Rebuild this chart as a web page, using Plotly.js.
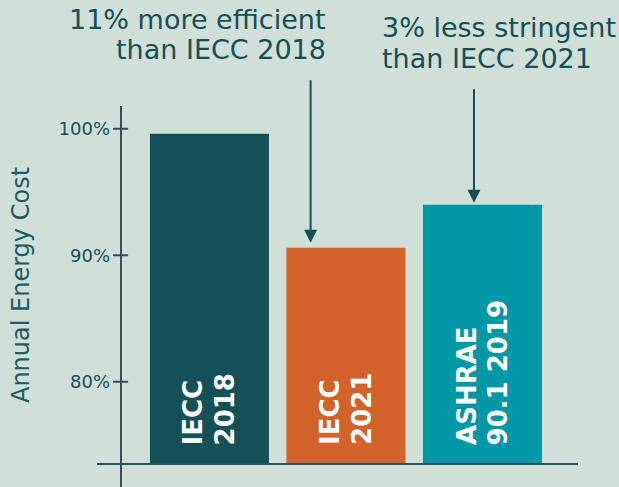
<!DOCTYPE html>
<html>
<head>
<meta charset="utf-8">
<script src="https://cdn.plot.ly/plotly-3.0.1.min.js"></script>
<style>
html,body{margin:0;padding:0;background:#d0dfd8;}
#chart{width:619px;height:487px;}
</style>
</head>
<body>
<div id="chart"></div>
<script>
// ---- data ----
const categories = ["IECC 2018", "IECC 2021", "ASHRAE 90.1 2019"];
const barLabelLine1 = ["IECC", "IECC", "ASHRAE"];
const barLabelLine2 = ["2018", "2021", "90.1 2019"];
const annualEnergyCost = [99.6, 90.6, 94.0];   // % of IECC 2018
const barColors = ["#154f57", "#d3622a", "#0097a7"];
const tickValues = [80, 90, 100];
const tickLabels = ["80%", "90%", "100%"];
const yAxisTitle = "Annual Energy Cost";
const callout1Lines = ["11% more efficient", "than IECC 2018"];
const callout2Lines = ["3% less stringent", "than IECC 2021"];

// ---- styles ----
const BG = "#d0dfd8";
const INK = "#174f56";
const AXIS = "#3e4a5c";
const Y_MIN = 73.5, Y_MAX = 101.8;
const FONT = "'DejaVu Sans', sans-serif";

const trace = {
  type: "bar",
  x: categories,
  y: annualEnergyCost,
  marker: {color: barColors, line: {width: 0}},
  hoverinfo: "skip",
  showlegend: false
};

const shapes = [
  {type: "line", xref: "paper", yref: "paper", x0: 0, x1: 0, y0: 1, y1: -0.08,
   line: {color: AXIS, width: 2}},
  {type: "line", xref: "paper", yref: "paper", x0: -0.0525, x1: 1, y0: 0, y1: 0,
   line: {color: "#23525a", width: 2}}
];
tickValues.forEach(v => shapes.push({
  type: "line", xref: "paper", yref: "y", x0: -0.0175, x1: 0.0155, y0: v, y1: v,
  line: {color: AXIS, width: 2}
}));

const annotations = [];
const labelFont = {family: "'DejaVu Sans', sans-serif", size: 26, color: "#ffffff"};
categories.forEach((c, i) => {
  [[barLabelLine1[i], -16], [barLabelLine2[i], 16]].forEach(([t, dx]) => annotations.push({
    x: c, y: Y_MIN, xref: "x", yref: "y",
    yanchor: "bottom", xanchor: "center", yshift: 17, xshift: dx,
    text: "<b>" + t + "</b>", textangle: -90, showarrow: false, font: labelFont
  }));
});
const calloutFont = {family: FONT, size: 27, color: INK};
callout1Lines.forEach((t, k) => annotations.push({
  xref: "paper", yref: "paper", x: 0.453, y: 1, yshift: 104 - 30 * k,
  xanchor: "right", yanchor: "top", text: t, showarrow: false, font: calloutFont
}));
callout2Lines.forEach((t, k) => annotations.push({
  xref: "paper", yref: "paper", x: 0.567, y: 1, yshift: 96 - 31 * k,
  xanchor: "left", yanchor: "top", text: t, showarrow: false, font: calloutFont
}));
annotations.push({
  x: 0.741, y: annualEnergyCost[1], xref: "x", yref: "y", text: "",
  showarrow: true, ax: 0, ay: -169, axref: "pixel", ayref: "pixel",
  arrowhead: 2, arrowsize: 1.3, arrowwidth: 2, arrowcolor: INK, standoff: 5
});
annotations.push({
  x: 1.938, y: annualEnergyCost[2], xref: "x", yref: "y", text: "",
  showarrow: true, ax: 0, ay: -117, axref: "pixel", ayref: "pixel",
  arrowhead: 2, arrowsize: 1.3, arrowwidth: 2, arrowcolor: INK, standoff: 2
});

const layout = {
  width: 619, height: 487,
  margin: {l: 121, r: 41, t: 106, b: 23, pad: 0},
  paper_bgcolor: BG, plot_bgcolor: BG,
  bargap: 0.128,
  xaxis: {
    type: "category", range: [-0.648, 2.70],
    showticklabels: false, showgrid: false, zeroline: false, showline: false, ticks: ""
  },
  yaxis: {
    range: [Y_MIN, Y_MAX], tickvals: tickValues, ticktext: tickLabels,
    showgrid: false, zeroline: false, showline: false, ticks: "",
    ticklabelstandoff: 10,
    tickfont: {family: FONT, size: 18, color: INK},
    title: {text: yAxisTitle, standoff: 22, font: {family: FONT, size: 24, color: "#1f5b61"}}
  },
  shapes: shapes,
  annotations: annotations
};

Plotly.newPlot("chart", [trace], layout, {displayModeBar: false, staticPlot: true});
</script>
</body>
</html>
